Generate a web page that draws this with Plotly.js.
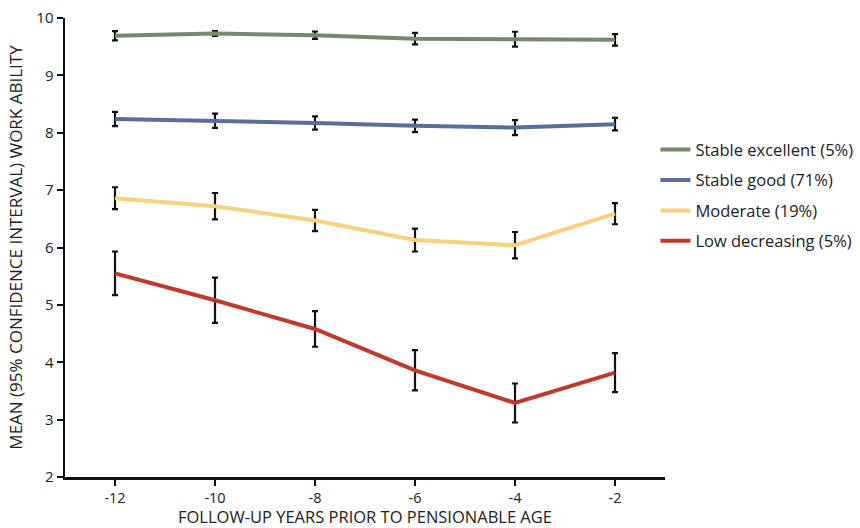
<!DOCTYPE html>
<html>
<head>
<meta charset="utf-8">
<script src="https://cdn.plot.ly/plotly-3.0.1.min.js"></script>
<style>html,body{margin:0;padding:0;background:#fff;}#chart{width:860px;height:528px;}</style>
</head>
<body>
<div id="chart"></div>
<script>
const years = [-12, -10, -8, -6, -4, -2];
const yearLabels = ["-12", "-10", "-8", "-6", "-4", "-2"];
const seriesNames = ["Stable excellent (5%)", "Stable good (71%)", "Moderate (19%)", "Low decreasing (5%)"];
const stableExcellent = [9.69, 9.73, 9.70, 9.64, 9.63, 9.62];
const stableExcellentCI = [0.08, 0.04, 0.065, 0.10, 0.13, 0.10];
const stableGood = [8.24, 8.21, 8.17, 8.12, 8.09, 8.15];
const stableGoodCI = [0.125, 0.125, 0.115, 0.11, 0.13, 0.11];
const moderate = [6.86, 6.72, 6.47, 6.13, 6.04, 6.59];
const moderateCI = [0.19, 0.23, 0.185, 0.20, 0.23, 0.185];
const lowDecreasing = [5.55, 5.08, 4.58, 3.86, 3.29, 3.82];
const lowDecreasingCI = [0.38, 0.395, 0.31, 0.35, 0.34, 0.34];
const colors = ["#76896a", "#5a6d9b", "#f8d27e", "#c03a2b"];

const values = [stableExcellent, stableGood, moderate, lowDecreasing];
const cis = [stableExcellentCI, stableGoodCI, moderateCI, lowDecreasingCI];

const traces = values.map((v, i) => ({
  x: years, y: v, type: "scatter", mode: "lines",
  name: seriesNames[i], legendgroup: "g" + i,
  line: {color: colors[i], width: 4},
  error_y: {type: "data", array: cis[i], visible: true, color: "#111", thickness: 2.2, width: 3}
}));

const layout = {
  width: 860, height: 528,
  margin: {l: 65, r: 195, t: 18, b: 51, autoexpand: false},
  paper_bgcolor: "#fff", plot_bgcolor: "#fff",
  font: {family: "Open Sans, sans-serif", color: "#222", size: 15},
  showlegend: true,
  legend: {x: 0.984, xanchor: "left", y: 0.751, yanchor: "top", font: {size: 16.5, color: "#222"},
           tracegroupgap: 6, itemwidth: 30, bgcolor: "rgba(0,0,0,0)"},
  xaxis: {range: [-13, -1], tickvals: years, ticktext: yearLabels, ticks: "outside", ticklen: 6, tickwidth: 2, tickcolor: "#111",
          showline: true, linecolor: "#111", linewidth: 2.5, showgrid: false, zeroline: false,
          tickfont: {size: 14.5}, title: {text: "FOLLOW-UP YEARS PRIOR TO PENSIONABLE AGE", font: {size: 16.5}, standoff: 9}},
  yaxis: {range: [2, 10], dtick: 1, ticks: "outside", ticklen: 6, tickwidth: 2, tickcolor: "#111",
          showline: true, linecolor: "#111", linewidth: 2.5, showgrid: false, zeroline: false,
          tickfont: {size: 15}, title: {text: "MEAN (95% CONFIDENCE INTERVAL) WORK ABILITY", font: {size: 17}, standoff: 10}}
};

Plotly.newPlot("chart", traces, layout, {displayModeBar: false, staticPlot: true});
</script>
</body>
</html>
